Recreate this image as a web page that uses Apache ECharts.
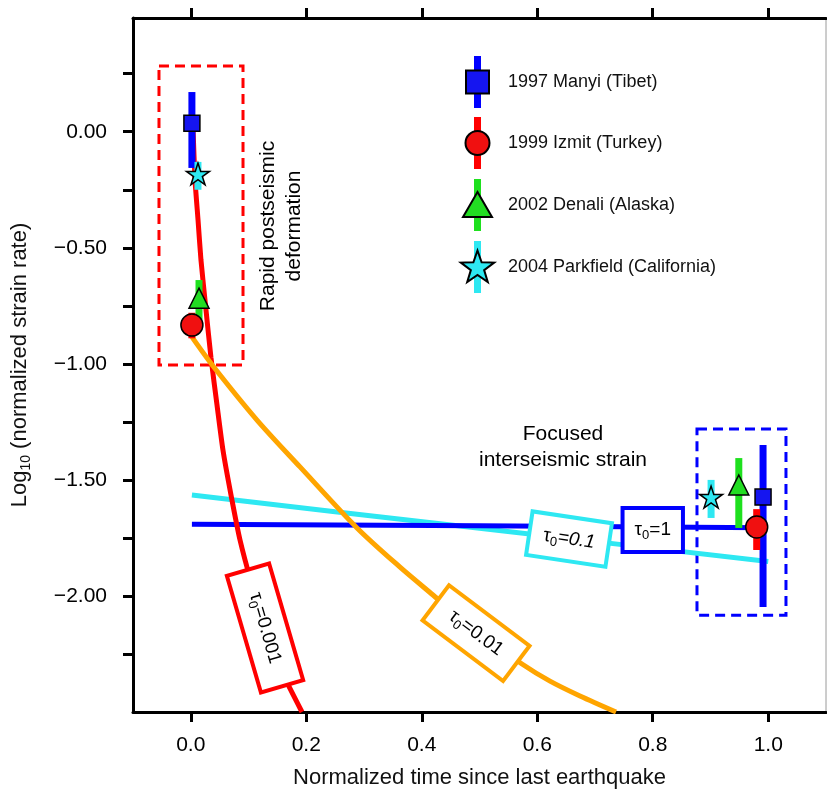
<!DOCTYPE html>
<html><head><meta charset="utf-8">
<script src="https://cdn.jsdelivr.net/npm/echarts@6/dist/echarts.min.js"></script>
<style>html,body{margin:0;padding:0;background:#fff}#c{width:827px;height:790px}</style>
</head><body><div id="c"></div>
<script>
// ---- axis ticks / labels ----
const X_TICKS = [0, 0.2, 0.4, 0.6, 0.8, 1.0];
const Y_TICKS = [-2.25, -2, -1.75, -1.5, -1.25, -1, -0.75, -0.5, -0.25, 0, 0.25];
const Y_LABELS = [-2, -1.5, -1, -0.5, 0];
const X_TITLE = 'Normalized time since last earthquake';
const Y_TITLE = '{a|Log}{b|10}{a| (normalized strain rate)}';
const EVENT_NAMES = ['1997 Manyi (Tibet)', '1999 Izmit (Turkey)', '2002 Denali (Alaska)', '2004 Parkfield (California)'];

// ---- observations: [normalized time, log10 rate, bar top, bar bottom] ----
const MANYI = [[0.002, 0.037, 0.171, -0.156], [0.991, -1.574, -1.350, -2.048]];
const IZMIT = [[0.002, -0.833, -0.78, -0.89], [0.980, -1.703, -1.626, -1.802]];
const DENALI = [[0.0143, -0.717, -0.639, -0.81], [0.949, -1.522, -1.406, -1.707]];
const PARKFIELD = [[0.0125, -0.182, -0.13, -0.25], [0.901, -1.574, -1.50, -1.664]];

// ---- model curves ----
const TAU_0001 = [[0.0039,0.016],[0.0074,-0.208],[0.0126,-0.38],[0.0177,-0.553],[0.0264,-0.768],[0.0351,-0.975],[0.0455,-1.178],[0.0558,-1.372],[0.0697,-1.565],[0.0853,-1.759],[0.106,-1.953],[0.1286,-2.138],[0.158,-2.328],[0.1926,-2.5]];
const TAU_001 = [[0.0022,-0.885],[0.0385,-1.009],[0.1147,-1.242],[0.1892,-1.444],[0.2879,-1.707],[0.3619,-1.875],[0.4195,-1.996],[0.4939,-2.151],[0.5736,-2.293],[0.6221,-2.367],[0.6740,-2.431],[0.7364,-2.5]];
const TAU_01 = [[0.002,-1.565],[0.25,-1.637],[0.5,-1.708],[0.75,-1.780],[1.0,-1.852]];
const TAU_1 = [[0.002,-1.691],[0.5,-1.698],[0.994,-1.706]];

// ---- model labels ----
const TAU_VALUES = ['0.001', '0.01', '0.1', '1'];
const TAU_LABEL_AT = [[0.1286,-2.138],[0.494,-2.16],[0.655,-1.755],[0.80,-1.716]];

// ---- annotations ----
const NOTE_TEXT = ['Rapid postseismic\ndeformation', 'Focused\ninterseismic strain'];
const NOTE_AT = [[0.1563,-0.406],[0.6446,-1.36]];
const RAPID_BOX = [[-0.055, 0.283], [0.0905, -1.005]];
const FOCUS_BOX = [[0.8766, -1.281], [1.0307, -2.083]];

// ---- styles ----
const FONT = '"Liberation Sans", Arial, Helvetica, sans-serif';
const C_BLUE = '#0000ff', C_RED = '#ff0000', C_GREEN = '#1ee01e', C_CYAN = '#2ee8f2', C_ORANGE = '#ffa500';
const STAR = 'path://M0,-50 L11.2,-15.5 L47.6,-15.5 L18.2,5.9 L29.4,40.5 L0,19.1 L-29.4,40.5 L-18.2,5.9 L-47.6,-15.5 L-11.2,-15.5 Z';
const CLEAR = 'rgba(0,0,0,0)';

const chart = echarts.init(document.getElementById('c'), null, {renderer: 'canvas'});

function barSeries(data, color) {
  return {
    type: 'custom', data: data, z: 4,
    encode: {x: 0, y: [2, 3]},
    renderItem: function (params, api) {
      const t = api.coord([api.value(0), api.value(2)]);
      const b = api.coord([api.value(0), api.value(3)]);
      return {type: 'rect', shape: {x: t[0] - 3.5, y: t[1], width: 7, height: b[1] - t[1]}, style: {fill: color}};
    }
  };
}
function markerSeries(data, symbol, size, color) {
  return {
    type: 'scatter', data: data.map(d => [d[0], d[1]]), symbol: symbol, symbolSize: size,
    symbolKeepAspect: true, z: 5,
    itemStyle: {color: color, borderColor: '#000', borderWidth: 1.5, opacity: 1}
  };
}
function lineSeries(data, color, smooth) {
  return {type: 'line', data: data, showSymbol: false, symbol: 'none', smooth: smooth, z: 3,
    lineStyle: {color: color, width: 5}};
}

const labelStyles = [
  {rotate: -73.7, border: C_RED, pad: [8, 22], italic: false},
  {rotate: -37, border: C_ORANGE, pad: [8, 17], italic: false},
  {rotate: -8.5, border: C_CYAN, pad: [8, 12], italic: true},
  {rotate: 0, border: C_BLUE, pad: [8, 10], italic: false}
];
const labelItems = TAU_VALUES.map((v, i) => {
  const s = labelStyles[i];
  const fs = s.italic ? 'italic' : 'normal';
  return {
    value: TAU_LABEL_AT[i],
    label: {
      show: true, position: 'inside', rotate: s.rotate,
      formatter: '{t|τ}{s|0}{u|=' + v + '}',
      backgroundColor: '#fff', borderColor: s.border, borderWidth: 4, padding: s.pad,
      rich: {
        t: {fontSize: 19, fontFamily: FONT, color: '#000', lineHeight: 24, verticalAlign: 'middle'},
        s: {fontSize: 13, fontFamily: FONT, color: '#000', lineHeight: 24, verticalAlign: 'bottom'},
        u: {fontSize: 19, fontFamily: FONT, fontStyle: fs, color: '#000', lineHeight: 24, verticalAlign: 'middle'}
      }
    }
  };
});
const noteItems = NOTE_TEXT.map((t, i) => ({
  value: NOTE_AT[i],
  label: {show: true, position: 'inside', formatter: t, rotate: i === 0 ? 90 : 0,
    fontSize: 21, lineHeight: 26, fontFamily: FONT, color: '#000', align: 'center'}
}));

// legend (graphic)
const LEG_Y = [82, 143, 205, 267];
const LEG_X = 477.5;
const legColors = [C_BLUE, C_RED, C_GREEN, C_CYAN];
const legFill = ['#1515f0', '#f01010', '#22dd22', '#2ee8f2'];
const graphics = [];
function starPts(cx, cy, R, r) {
  const p = [];
  for (let k = 0; k < 10; k++) {
    const a = -Math.PI / 2 + k * Math.PI / 5;
    const rr = k % 2 === 0 ? R : r;
    p.push([cx + rr * Math.cos(a), cy + rr * Math.sin(a)]);
  }
  return p;
}
EVENT_NAMES.forEach((name, i) => {
  const cy = LEG_Y[i];
  graphics.push({type: 'rect', shape: {x: LEG_X - 3.5, y: cy - 26, width: 7, height: 52}, style: {fill: legColors[i]}, z: 10});
  const st = {fill: legFill[i], stroke: '#000', lineWidth: 2};
  if (i === 0) graphics.push({type: 'rect', shape: {x: LEG_X - 11.5, y: cy - 11.5, width: 23, height: 23}, style: st, z: 11});
  if (i === 1) graphics.push({type: 'circle', shape: {cx: LEG_X, cy: cy, r: 12}, style: st, z: 11});
  if (i === 2) graphics.push({type: 'polygon', shape: {points: [[LEG_X, cy - 13], [LEG_X - 14.5, cy + 12], [LEG_X + 14.5, cy + 12]]}, style: st, z: 11});
  if (i === 3) graphics.push({type: 'polygon', shape: {points: starPts(LEG_X, cy + 1, 17.5, 7)}, style: st, z: 11});
  graphics.push({type: 'text', x: 508, y: cy, style: {text: name, fontSize: 18, fontFamily: FONT, fill: '#111', verticalAlign: 'middle', align: 'left'}, z: 11});
});

const axisLine = {onZero: false, lineStyle: {color: '#000', width: 3}};
const tickStyle = {length: 10, lineStyle: {color: '#000', width: 3}};

chart.setOption({
  animation: false,
  backgroundColor: '#fff',
  grid: {left: 133, right: 1, top: 18, bottom: 78, show: true, borderColor: '#9a9a9a', borderWidth: 1,
    containLabel: false, outerBoundsMode: 'none'},
  xAxis: [
    {type: 'value', min: -0.1, max: 1.1, position: 'bottom', axisLine: axisLine,
      axisTick: Object.assign({customValues: X_TICKS}, tickStyle),
      axisLabel: {customValues: X_TICKS, formatter: v => v.toFixed(1), fontSize: 21, fontFamily: FONT, color: '#000', margin: 23},
      splitLine: {show: false},
      name: X_TITLE, nameLocation: 'middle', nameGap: 55,
      nameTextStyle: {fontSize: 22, fontFamily: FONT, color: '#111'}},
    {type: 'value', min: -0.1, max: 1.1, position: 'top', axisLine: axisLine,
      axisTick: Object.assign({customValues: X_TICKS}, tickStyle),
      axisLabel: {show: false}, splitLine: {show: false}}
  ],
  yAxis: {type: 'value', min: -2.5, max: 0.49, axisLine: axisLine,
    axisTick: Object.assign({customValues: Y_TICKS}, tickStyle),
    axisLabel: {customValues: Y_LABELS, formatter: v => (v < 0 ? '\u2212' : '') + Math.abs(v).toFixed(2),
      fontSize: 21, fontFamily: FONT, color: '#000', margin: 26},
    splitLine: {show: false},
    name: Y_TITLE, nameLocation: 'middle', nameGap: 100,
    nameTextStyle: {color: '#111', rich: {
      a: {fontSize: 22, fontFamily: FONT, color: '#111', lineHeight: 27, verticalAlign: 'middle'},
      b: {fontSize: 14, fontFamily: FONT, color: '#111', lineHeight: 27, verticalAlign: 'bottom'}
    }}},
  graphic: graphics,
  series: [
    lineSeries(TAU_01, C_CYAN, false),
    lineSeries(TAU_1, C_BLUE, false),
    lineSeries(TAU_0001, C_RED, 0.2),
    lineSeries(TAU_001, C_ORANGE, 0.3),
    barSeries(MANYI, C_BLUE),
    barSeries(IZMIT, C_RED),
    barSeries(DENALI, C_GREEN),
    barSeries(PARKFIELD, C_CYAN),
    markerSeries(MANYI, 'rect', 16, '#1515f0'),
    markerSeries(IZMIT, 'circle', 22, '#f01010'),
    markerSeries(DENALI, 'triangle', 20, '#22dd22'),
    markerSeries(PARKFIELD, STAR, 23, '#2ee8f2'),
    {type: 'scatter', data: labelItems, symbolSize: 1, itemStyle: {color: CLEAR, opacity: 1}, z: 6, silent: true},
    {type: 'scatter', data: noteItems, symbolSize: 1, itemStyle: {color: CLEAR, opacity: 1}, z: 6, silent: true,
      markArea: {silent: true, itemStyle: {color: CLEAR, borderWidth: 3, borderType: [10, 6]},
        data: [
          [{coord: RAPID_BOX[0], itemStyle: {borderColor: C_RED, color: CLEAR, borderWidth: 3, borderType: [10, 6]}}, {coord: RAPID_BOX[1]}],
          [{coord: FOCUS_BOX[0], itemStyle: {borderColor: C_BLUE, color: CLEAR, borderWidth: 3, borderType: [10, 6]}}, {coord: FOCUS_BOX[1]}]
        ]}}
  ]
});
</script></body></html>
